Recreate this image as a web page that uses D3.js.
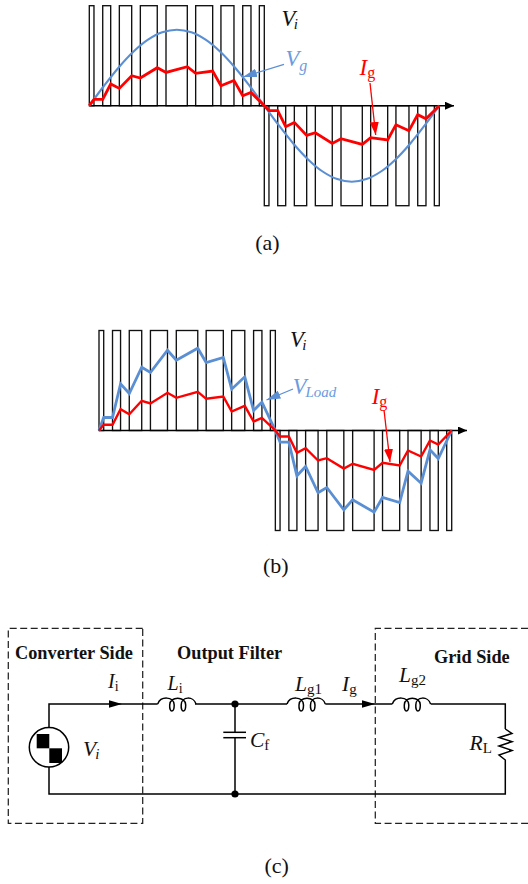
<!DOCTYPE html>
<html><head><meta charset="utf-8">
<script src="https://cdn.jsdelivr.net/npm/d3@7/dist/d3.min.js"></script>
<style>html,body{margin:0;padding:0;background:#fff}svg{display:block}text{font-family:"Liberation Serif",serif}</style>
</head><body><svg id="c" width="528" height="884"></svg>
<script>
// Pulse edges of the PWM voltage, electrical degrees
const pulsesPos = [[0,4.8],[13.8,22],[30.9,43.6],[52.5,69.9],[78.9,100.8],[109.4,126.9],[135.4,148.8],[157.8,166.3],[174.9,180]];
const pulsesNeg = [[180,184.8],[193.8,202],[210.9,223.6],[232.5,249.9],[258.9,280.8],[289.4,306.9],[315.4,328.8],[337.8,346.3],[354.9,360]];
// Sample angles for the measured current and load voltage
const sampleAngles = [0,4.8,13.8,22,30.9,43.6,52.5,69.9,78.9,100.8,109.4,126.9,135.4,148.8,157.8,166.3,180,
  184.8,193.8,202,210.9,223.6,232.5,249.9,258.9,280.8,289.4,306.9,315.4,328.8,337.8,346.3,360];
const igA = [0,.063,.063,.217,.173,.30,.277,.38,.333,.39,.323,.347,.2,.253,.1,.133,0,
  -.05,-.05,-.21,-.167,-.297,-.27,-.377,-.33,-.387,-.32,-.343,-.19,-.25,-.09,-.13,0];
const igB = [0,.057,.057,.213,.163,.297,.27,.377,.327,.387,.317,.34,.19,.247,.09,.127,0,
  -.06,-.06,-.223,-.177,-.3,-.277,-.38,-.333,-.393,-.323,-.35,-.2,-.26,-.1,-.14,0];
const vLoad = [0,.13,.13,.467,.37,.633,.58,.803,.703,.823,.68,.73,.413,.537,.2,.283,0,
  -.117,-.117,-.453,-.36,-.623,-.57,-.793,-.693,-.817,-.67,-.72,-.407,-.527,-.193,-.28,0];
// Grid voltage read every 15 degrees
const vgAngles = [0,15,30,45,60,75,90,105,120,135,150,165,180,195,210,225,240,255,270,285,300,315,330,345,360];
const vg = [0,.197,.38,.537,.658,.734,.76,.734,.658,.537,.38,.197,0,-.197,-.38,-.537,-.658,-.734,-.76,-.734,-.658,-.537,-.38,-.197,0];

const svg = d3.select("#c");
const BLUE = "#5b8fd3", BLUETXT = "#6c9be0", RED = "#ff0000", INK = "#000";

const defs = svg.append("defs");
function marker(id, color, w, h){
  defs.append("marker").attr("id",id).attr("markerUnits","userSpaceOnUse").attr("orient","auto")
    .attr("markerWidth",w).attr("markerHeight",h).attr("refX",w).attr("refY",h/2)
    .append("path").attr("d",`M0,0L${w},${h/2}L0,${h}Z`).attr("fill",color);
}
marker("ah-k",INK,9,8); marker("ah-r",RED,13,9); marker("ah-b",BLUE,14,8.5);

function label(x,y,main,sub,opts={}){
  const t = svg.append("text").attr("x",x).attr("y",y).attr("fill",opts.color||"#111");
  t.append("tspan").text(main).attr("font-style","italic").attr("font-size",opts.size||22);
  t.append("tspan").text(sub).attr("font-size",opts.sub||15)
    .attr("font-style",opts.subItalic?"italic":"normal")
    .attr("dx",opts.dx||0).attr("dy",opts.dy===undefined?3:opts.dy);
  return t;
}
function arrow(x1,y1,x2,y2,color,mk,w){
  svg.append("line").attr("x1",x1).attr("y1",y1).attr("x2",x2).attr("y2",y2)
    .attr("stroke",color).attr("stroke-width",w).attr("marker-end",`url(#${mk})`);
}

function panel(cfg){
  const x = d3.scaleLinear().domain([0,360]).range(cfg.xr);
  const y = d3.scaleLinear().domain([-1,1]).range([cfg.y0+100,cfg.y0-100]);
  const g = svg.append("g");
  const rectData = [...pulsesPos.map(p=>({p,top:1,bot:0})),...pulsesNeg.map(p=>({p,top:0,bot:-1}))];
  g.selectAll("rect").data(rectData).join("rect")
    .attr("x",d=>x(d.p[0])).attr("width",d=>x(d.p[1])-x(d.p[0]))
    .attr("y",d=>y(d.top)).attr("height",d=>y(d.bot)-y(d.top))
    .attr("fill","none").attr("stroke","#111").attr("stroke-width",1.35);
  svg.append("line").attr("x1",x(0)).attr("x2",cfg.tip).attr("y1",y(0)).attr("y2",y(0))
    .attr("stroke",INK).attr("stroke-width",1.4).attr("marker-end","url(#ah-k)");
  const ln = d3.line().x(d=>x(d[0])).y(d=>y(d[1]));
  cfg.series.forEach(s=>{
    svg.append("path").attr("d",ln.curve(s.curve||d3.curveLinear)(d3.zip(s.a,s.v)))
      .attr("fill","none").attr("stroke",s.color).attr("stroke-width",s.w).attr("stroke-linejoin","miter");
  });
}
panel({xr:[89.3,439.3],y0:105.7,tip:454,series:[
  {a:vgAngles,v:vg,color:BLUE,w:2.1,curve:d3.curveCatmullRom},
  {a:sampleAngles,v:igA,color:RED,w:2.8}]});
panel({xr:[99,451.7],y0:430.5,tip:467,series:[
  {a:sampleAngles,v:vLoad,color:BLUE,w:2.8},
  {a:sampleAngles,v:igB,color:RED,w:2.4}]});

// Panel (a) annotations
const sideV = {size:22.5,sub:15,subItalic:true,dy:3,dx:-1.5};
label(281.5,26,"V","i",sideV);
label(285.5,66,"V","g",{...sideV,color:BLUETXT,sub:16,dy:4.5,dx:0});
label(359.5,75,"I","g",{size:23,sub:16,dy:3,color:RED});
arrow(284,64.3,243,77,BLUE,"ah-b",1.3);
arrow(370,83,375.7,135,RED,"ah-r",1.3);
// Panel (b) annotations
label(290,346.5,"V","i",sideV);
label(292.7,394,"V","Load",{...sideV,color:BLUETXT,sub:15,dy:3.3,dx:-1});
label(371.7,404,"I","g",{size:23,sub:16,dy:3,color:RED});
arrow(293,389,266.5,400,BLUE,"ah-b",1.3);
arrow(384,410,390,462,RED,"ah-r",1.3);
// Captions
[["(a)",267.5,250],["(b)",275.8,573.3],["(c)",276.7,873.3]].forEach(([s,x,y])=>{
  svg.append("text").attr("x",x).attr("y",y).attr("text-anchor","middle").attr("font-size",22).attr("fill","#111").text(s);
});

// Circuit (c)
const wireTop = 704, wireBot = 794, W = 1.5;
const wire = pts => svg.append("path").attr("d",d3.line()(pts)).attr("fill","none").attr("stroke",INK).attr("stroke-width",W);
["M142.7,628.3H8.3V823.3H142.7V628.3","M528,628.3H375.3V823.3H528"].forEach(d=>{
  svg.append("path").attr("d",d).attr("fill","none").attr("stroke","#222").attr("stroke-width",1.25).attr("stroke-dasharray","7,3.5");
});
wire([[49,727],[49,wireTop],[157.7,wireTop]]);
wire([[195,wireTop],[287,wireTop]]);
wire([[325.3,wireTop],[392.3,wireTop]]);
wire([[430.7,wireTop],[505.3,wireTop],[505.3,729]]);
wire([[505.3,729],[512,733.5],[499,737.5],[512,741.7],[499,746],[512,750.5],[499,755],[505.3,760],[505.3,wireBot],[49,wireBot],[49,767]]);
wire([[235,wireTop],[235,732.3]]);
wire([[235,737.7],[235,wireBot]]);
wire([[223.3,732.3],[246,732.3]]);
wire([[223.3,737.7],[246,737.7]]);
[157.7,287,392.3].forEach(x0=>{
  svg.append("path").attr("transform",`translate(${x0},${wireTop})`)
    .attr("d","M0,0C3,-8 16,-8 16.5,1C16.5,9 11.5,9 12,1C12,-8 28,-8 28,1C28,9 23,9 23.5,1C23.5,-8 36,-8 38.3,0")
    .attr("fill","none").attr("stroke",INK).attr("stroke-width",W);
});
[[235,wireTop],[235,wireBot]].forEach(([x,y])=>svg.append("circle").attr("cx",x).attr("cy",y).attr("r",3.6).attr("fill",INK));
[[109,122],[362,375]].forEach(([a,b])=>svg.append("path").attr("d",`M${a},${wireTop-3.8}L${b},${wireTop}L${a},${wireTop+3.8}Z`).attr("fill",INK));
svg.append("circle").attr("cx",49).attr("cy",747.3).attr("r",19.7).attr("fill","#fff").attr("stroke",INK).attr("stroke-width",1.5);
[[36.7,734,12.6,14.3],[49.3,748.3,12.7,14.7]].forEach(([x,y,w,h])=>svg.append("rect").attr("x",x).attr("y",y).attr("width",w).attr("height",h).attr("fill",INK));

[["Converter Side",15,659],["Output Filter",177,659],["Grid Side",434,663]].forEach(([s,x,y])=>{
  svg.append("text").attr("x",x).attr("y",y).attr("font-size",18.3).attr("font-weight","bold").attr("fill","#111").text(s);
});
const small = {size:20,sub:14,dy:3}, big = {size:21.5,sub:15,dy:3};
label(108,688,"I","i",small);
label(167.5,690,"L","i",small);
label(83,756,"V","i",{...big,subItalic:true,dx:-1});
label(250,747,"C","f",big);
label(295,691,"L","g1",big);
label(342,691,"I","g",big);
label(399,682,"L","g2",big);
label(469.5,750,"R","L",big);
</script></body></html>
